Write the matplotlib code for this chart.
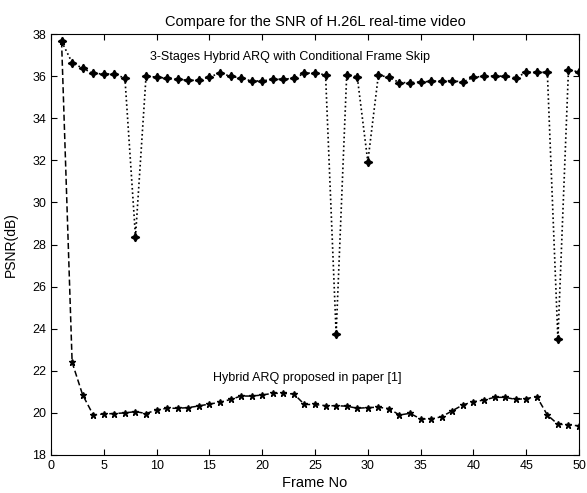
import matplotlib
matplotlib.use('Agg')
import matplotlib.pyplot as plt
import numpy as np

frames = list(range(1, 51))

# 3-Stages Hybrid ARQ with Conditional Frame Skip
psnr_3stage = [37.65, 36.64, 36.37, 36.13, 36.1, 36.1, 35.9, 28.37, 36.0, 35.95,
               35.9, 35.85, 35.8, 35.8, 35.97, 36.13, 36.0, 35.9, 35.77, 35.77,
               35.85, 35.85, 35.9, 36.13, 36.16, 36.05, 23.75, 36.05, 35.97, 31.93,
               36.05, 35.94, 35.69, 35.69, 35.72, 35.75, 35.78, 35.78, 35.72, 35.94,
               36.0, 36.0, 36.0, 35.92, 36.18, 36.18, 36.18, 23.5, 36.29, 36.2]

# Hybrid ARQ proposed in paper [1]
psnr_hybrid = [37.65, 22.4, 20.85, 19.9, 19.95, 19.97, 20.0, 20.06, 19.97, 20.14,
               20.22, 20.22, 20.25, 20.33, 20.42, 20.5, 20.64, 20.8, 20.8, 20.85,
               20.93, 20.93, 20.9, 20.4, 20.4, 20.34, 20.34, 20.32, 20.22, 20.25,
               20.27, 20.2, 19.9, 19.98, 19.71, 19.71, 19.82, 20.1, 20.38, 20.53,
               20.61, 20.74, 20.74, 20.64, 20.68, 20.77, 19.9, 19.46, 19.44, 19.38]

plt.rcParams['font.family'] = ['Liberation Sans', 'DejaVu Sans']

fig = plt.figure(figsize=(5.87, 4.93), dpi=100)
# right edge pulled in a little so the "50" tick label stays inside the picture
ax = fig.add_axes([0.0869, 0.0771, 0.8995, 0.8539])

ax.plot(frames, psnr_3stage, color='black', linestyle=':', linewidth=1.2,
        marker=(4, 1, 0), markersize=6, markeredgewidth=1.1)
ax.plot(frames, psnr_hybrid, color='black', linestyle='--', linewidth=1.1,
        dashes=(4, 2), marker='*', markersize=4.5)

ax.set_xlim(0, 50)
ax.set_ylim(18, 38)
ax.set_xticks(np.arange(0, 51, 5))
ax.set_yticks(np.arange(18, 39, 2))
ax.tick_params(direction='in', top=True, right=True, labelsize=9, length=4)

ax.set_title('Compare for the SNR of H.26L real-time video', fontsize=10.5, pad=6)
ax.set_xlabel('Frame No', fontsize=10.5, labelpad=3)
ax.set_ylabel('PSNR(dB)', fontsize=10, labelpad=10)

ax.text(22.6, 36.92, '3-Stages Hybrid ARQ with Conditional Frame Skip',
        ha='center', va='center', fontsize=9)
ax.text(24.3, 21.66, 'Hybrid ARQ proposed in paper [1]',
        ha='center', va='center', fontsize=9)

fig.savefig('out.png', dpi=100, facecolor='white')
plt.close(fig)
